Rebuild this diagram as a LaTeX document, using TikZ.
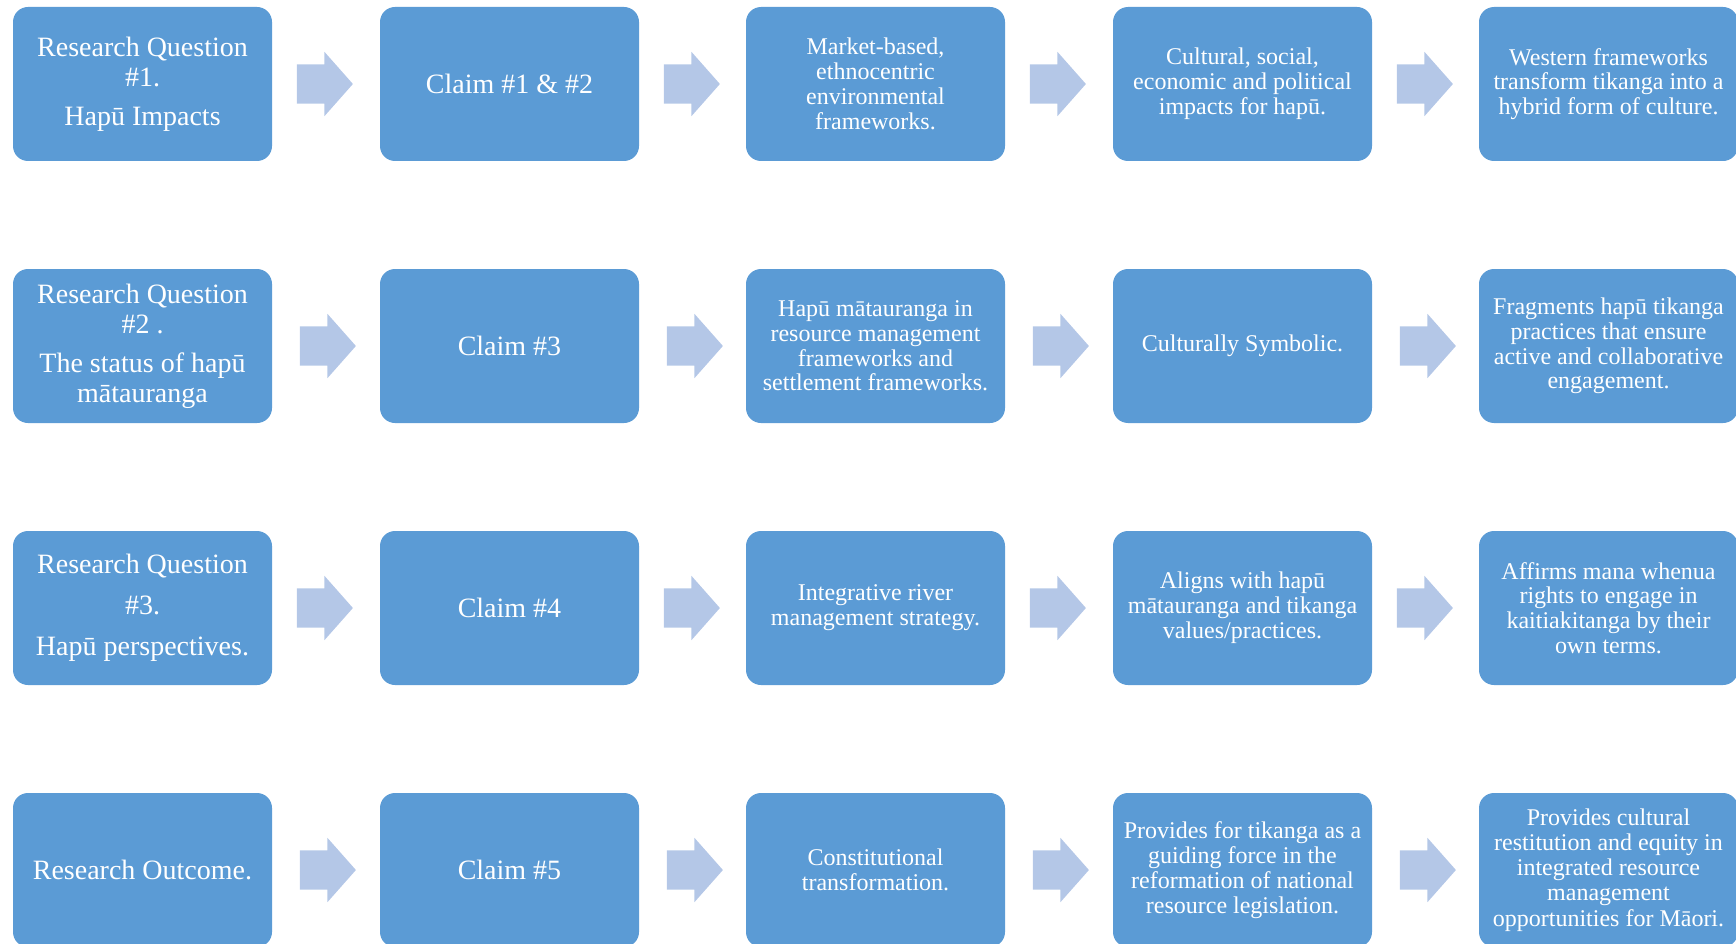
\documentclass[tikz,border=0pt]{standalone}
\usepackage{fontspec}
\setmainfont{Liberation Serif}
\newfontfamily\tnr{Liberation Serif}
\usetikzlibrary{shapes.arrows}
\definecolor{boxblue}{HTML}{5B9BD5}
\definecolor{arrowblue}{HTML}{B4C7E7}
\begin{document}
\begin{tikzpicture}[x=1pt,y=-1pt,
  box/.style={draw=none, fill=boxblue, rounded corners=15pt, minimum width=259pt,
    minimum height=154pt, inner sep=0pt, text=white, align=center,
    font=\tnr\fontsize{24}{24.8}\selectfont},
  bigbox/.style={box, font=\tnr\fontsize{28}{30}\selectfont},
  blockarrow/.style={single arrow, fill=arrowblue, draw=none,
    minimum height=56pt, single arrow head extend=12.5pt, single arrow tip angle=97,
    inner xsep=0pt, inner ysep=19.5pt, anchor=tail}]
\useasboundingbox (0,0) rectangle (1736,944);
\clip (0,0) rectangle (1736,944);
% row 1
\node[bigbox] (b11) at (142.5,84) {Research Question\\\#1.\\[9pt]Hapū Impacts};
\node[bigbox] (b12) at (509.5,84) {Claim \#1 \& \#2};
\node[box] (b13) at (875.5,84) {Market-based,\\ethnocentric\\environmental\\frameworks.};
\node[box] (b14) at (1242.5,84) {Cultural, social,\\economic and political\\impacts for hapū.};
\node[box] (b15) at (1608.5,84) {Western frameworks\\transform tikanga into a\\hybrid form of culture.};
% row 2
\node[bigbox] (b21) at (142.5,346) {Research Question\\\#2 .\\[9pt]The status of hapū\\mātauranga};
\node[bigbox] (b22) at (509.5,346) {Claim \#3};
\node[box] (b23) at (875.5,346) {Hapū mātauranga in\\resource management\\frameworks and\\settlement frameworks.};
\node[box] (b24) at (1242.5,346) {Culturally Symbolic.};
\node[box] (b25) at (1608.5,346) {Fragments hapū tikanga\\practices that ensure\\active and collaborative\\engagement.};
% row 3
\node[bigbox] (b31) at (142.5,608) {Research Question\\[11pt]\#3.\\[11pt]Hapū perspectives.};
\node[bigbox] (b32) at (509.5,608) {Claim \#4};
\node[box] (b33) at (875.5,608) {Integrative river\\management strategy.};
\node[box] (b34) at (1242.5,608) {Aligns with hapū\\mātauranga and tikanga\\values/practices.};
\node[box] (b35) at (1608.5,608) {Affirms mana whenua\\rights to engage in\\kaitiakitanga by their\\own terms.};
% row 4
\node[bigbox] (b41) at (142.5,870) {Research Outcome.};
\node[bigbox] (b42) at (509.5,870) {Claim \#5};
\node[box] (b43) at (875.5,870) {Constitutional\\transformation.};
\node[box] (b44) at (1242.5,870) {Provides for tikanga as a\\guiding force in the\\reformation of national\\resource legislation.};
\node[box, font=\tnr\fontsize{24}{25.2}\selectfont] (b45) at (1608.5,870) {Provides cultural\\restitution and equity in\\integrated resource\\management\\opportunities for Māori.};
% arrows
\foreach \r/\s in {1/24.5,2/27.5,3/24.5,4/27.5}
  \foreach \c in {1,2,3,4}
    \node[blockarrow] (a\r\c) at ([xshift=\s pt]b\r\c.east) {};
\end{tikzpicture}
\end{document}
